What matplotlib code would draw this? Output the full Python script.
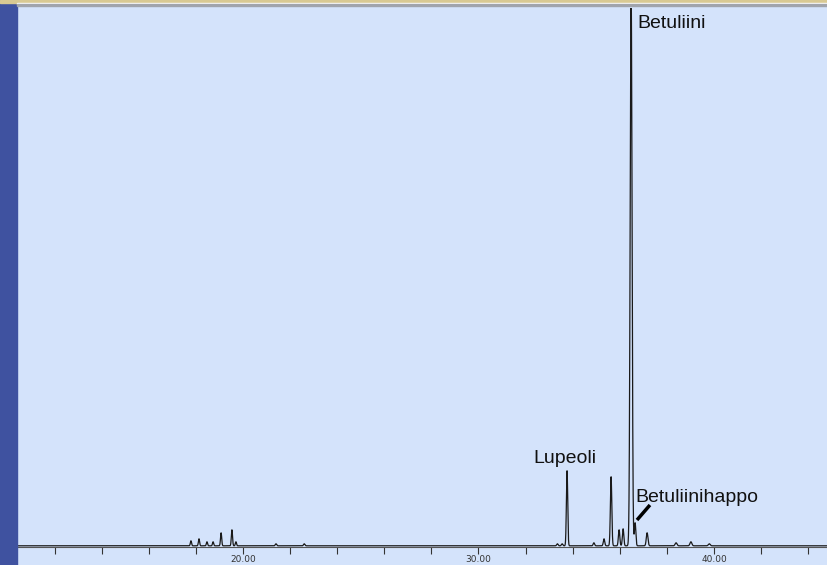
import numpy as np
import matplotlib
matplotlib.use("Agg")
import matplotlib.pyplot as plt
from matplotlib.patches import Rectangle

# retention times (min), heights (signal units ~ px above baseline), widths (sigma, min)
peak_times = [17.79, 18.13, 18.47, 18.73, 19.07, 19.53, 19.70, 21.4, 22.6, 33.35, 33.55,
              33.76, 34.90, 35.33, 35.63, 35.97, 36.14, 36.48, 36.65, 37.16, 38.39, 39.02, 39.80]
peak_heights = [5, 7, 4, 4, 13, 16, 4, 2, 2, 2, 2,
                75, 3, 7, 69, 16, 17, 560, 23, 13, 3, 4, 2]
peak_widths = [0.025, 0.025, 0.025, 0.025, 0.025, 0.025, 0.025, 0.03, 0.03, 0.03, 0.03,
               0.028, 0.03, 0.03, 0.03, 0.03, 0.03, 0.04, 0.03, 0.035, 0.04, 0.04, 0.04]

labels = ["Lupeoli", "Betuliini", "Betuliinihappo"]
label_pos = [(32.31, 84), (36.73, 519), (36.65, 45)]

bg = "#d4e3fb"
fig = plt.figure(figsize=(8.27, 5.65), dpi=100, facecolor=bg)
ax = fig.add_axes([17 / 827, 18 / 565, 1 - 17 / 827, 539 / 565])
ax.set_facecolor(bg)

t = np.linspace(10.0, 45.5, 12000)
signal = np.full_like(t, 1.2)
for c, h, w in zip(peak_times, peak_heights, peak_widths):
    signal += h * np.exp(-0.5 * ((t - c) / w) ** 2)
ax.plot(t, signal, color="#1a1a1a", lw=0.9)

ax.set_xlim(20 - 226 / 23.55, 20 + 584 / 23.55)
ax.set_ylim(0, 539)

ax.set_xticks([20, 30, 40])
ax.set_xticklabels(["20.00", "30.00", "40.00"])
ax.set_xticks(np.arange(12, 46, 2), minor=True)
ax.tick_params(axis="x", which="both", direction="out", length=5, width=0.8,
               colors="#333333", labelsize=6.5, pad=1)
ax.set_yticks([])
for s in ["left", "right", "top"]:
    ax.spines[s].set_visible(False)
ax.spines["bottom"].set_color("#555555")
ax.spines["bottom"].set_linewidth(0.8)

for txt, (x, y) in zip(labels, label_pos):
    ax.text(x, y, txt, fontsize=14, family="Liberation Sans", ha="left", va="baseline",
            color="#111111")
ax.plot([36.73, 37.28], [27, 42], color="black", lw=2.5, solid_capstyle="butt")

# frame decorations: textured left strip and top bar
fig.add_artist(Rectangle((0, 0), 17 / 827, 1, transform=fig.transFigure,
                         color="#3f52a0", zorder=5))
fig.add_artist(Rectangle((0, 1 - 3 / 565), 1, 3 / 565, transform=fig.transFigure,
                         color="#d8c993", zorder=5))
fig.add_artist(Rectangle((17 / 827, 1 - 4 / 565), 1, 1 / 565, transform=fig.transFigure,
                         color="#ffffff", zorder=5))
fig.add_artist(Rectangle((17 / 827, 1 - 6 / 565), 1, 2 / 565, transform=fig.transFigure,
                         color="#a0a4ac", zorder=5))

fig.savefig("out.png", dpi=100, facecolor=bg)
